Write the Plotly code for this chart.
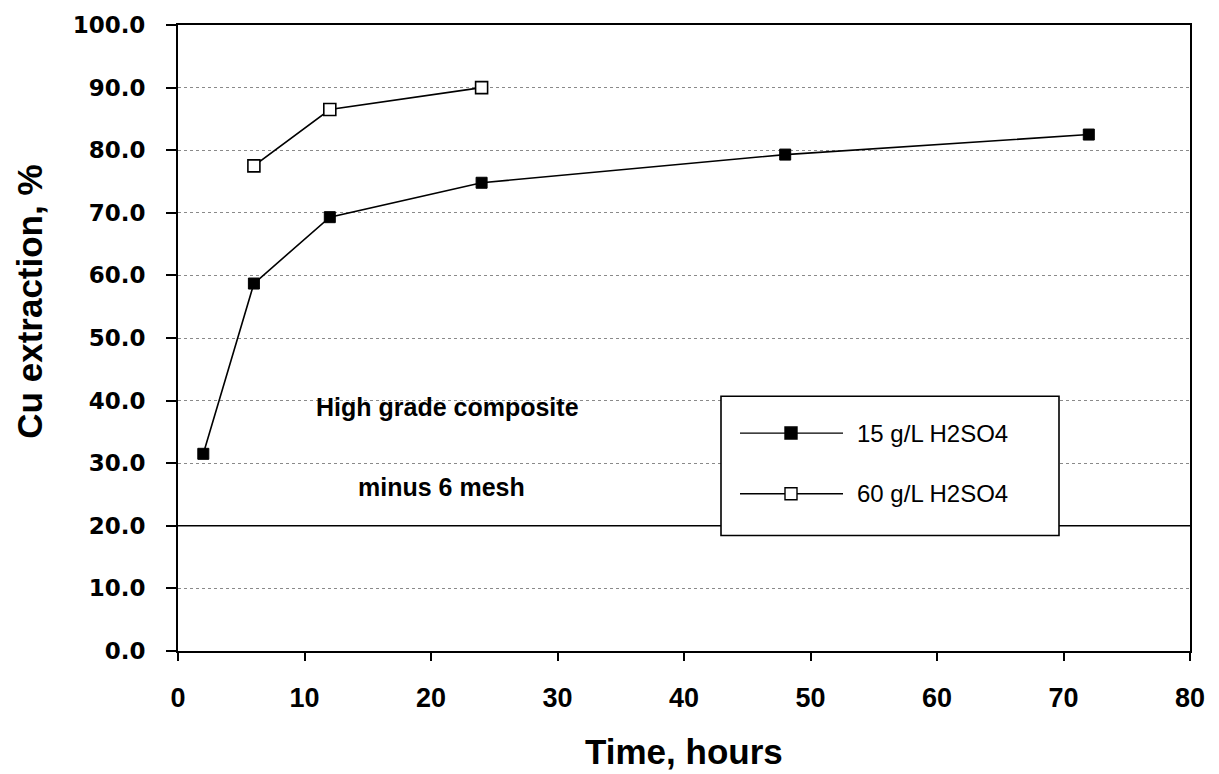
import plotly.graph_objects as go

# Copper extraction vs. leach time, high grade composite (minus 6 mesh)
time_15 = [2, 6, 12, 24, 48, 72]
cu_15 = [31.5, 58.7, 69.3, 74.8, 79.3, 82.5]

time_60 = [6, 12, 24]
cu_60 = [77.5, 86.5, 90.0]

series_names = ["15 g/L H2SO4", "60 g/L H2SO4"]
x_ticks = [0, 10, 20, 30, 40, 50, 60, 70, 80]
y_ticks = [0, 10, 20, 30, 40, 50, 60, 70, 80, 90, 100]

W, H = 1219, 774
L, R, T, B = 178, 29, 22, 123
PW, PH = W - L - R, H - T - B


def px(xp):
    return (xp - L) / PW


def py(yp):
    return (H - B - yp) / PH


fig = go.Figure()

fig.add_trace(go.Scatter(
    x=time_15, y=cu_15, mode="lines+markers", name=series_names[0],
    line=dict(color="black", width=1.6),
    marker=dict(symbol="square", size=11, color="black",
                line=dict(color="black", width=1)),
    showlegend=False,
))
fig.add_trace(go.Scatter(
    x=time_60, y=cu_60, mode="lines+markers", name=series_names[1],
    line=dict(color="black", width=1.6),
    marker=dict(symbol="square", size=12, color="white",
                line=dict(color="black", width=1.6)),
    showlegend=False,
))

tick_font_x = dict(family="Liberation Sans, Arial", size=27, color="black", weight="bold")
tick_font_y = dict(family="DejaVu Sans", size=23, color="black", weight="bold")

fig.update_layout(
    width=W, height=H,
    margin=dict(l=L, r=R, t=T, b=B, pad=0),
    paper_bgcolor="white", plot_bgcolor="white",
    showlegend=False,
    xaxis=dict(
        range=[0, 80], tickvals=x_ticks, ticktext=[str(v) for v in x_ticks],
        ticks="outside", ticklen=8, tickwidth=1.5, tickcolor="black",
        showline=True, linecolor="black", linewidth=2, mirror=True,
        showgrid=False, zeroline=False,
        tickfont=tick_font_x, ticklabelstandoff=14,
    ),
    xaxis2=dict(
        range=[0, 80], tickvals=x_ticks, overlaying="x", anchor="y", side="bottom",
        ticks="inside", ticklen=8, tickwidth=1.5, tickcolor="black",
        showticklabels=False, showgrid=False, zeroline=False, showline=False,
    ),
    yaxis=dict(
        range=[0, 100], tickvals=y_ticks, tickformat=".1f",
        ticks="outside", ticklen=10, tickwidth=1.5, tickcolor="black",
        showline=True, linecolor="black", linewidth=2, mirror=True,
        showgrid=True, gridcolor="#8a8a8a", gridwidth=1, griddash="dot",
        zeroline=False,
        tickfont=tick_font_y, ticklabelstandoff=16,
    ),
)

shapes = []
# solid reference line at 20 %
shapes.append(dict(type="line", xref="x", yref="y", x0=0, x1=80, y0=20, y1=20,
                   line=dict(color="black", width=1.5), layer="between"))

# legend box
lx0, lx1, ly0, ly1 = 721, 1059, 395, 535
shapes.append(dict(type="rect", xref="paper", yref="paper",
                   x0=px(lx0), x1=px(lx1), y0=py(ly1), y1=py(ly0),
                   line=dict(color="black", width=1.6), fillcolor="white",
                   layer="above"))

rows = [432, 493]
fills = ["black", "white"]
sq = 12
for row, fill in zip(rows, fills):
    shapes.append(dict(type="line", xref="paper", yref="paper",
                       x0=px(740), x1=px(843), y0=py(row), y1=py(row),
                       line=dict(color="black", width=1.3), layer="above"))
    shapes.append(dict(type="rect", xref="paper", yref="paper",
                       x0=px(791 - sq / 2), x1=px(791 + sq / 2),
                       y0=py(row + sq / 2), y1=py(row - sq / 2),
                       line=dict(color="black", width=1.4), fillcolor=fill,
                       layer="above"))
fig.update_layout(shapes=shapes)

annotations = []
for row, name in zip(rows, series_names):
    annotations.append(dict(
        xref="paper", yref="paper", x=px(855), y=py(row),
        xanchor="left", yanchor="middle", showarrow=False, text=name,
        font=dict(family="Liberation Sans, Arial", size=24, color="black"),
    ))

annotations.append(dict(
    xref="paper", yref="paper", x=px(447), y=py(406),
    xanchor="center", yanchor="middle", showarrow=False,
    text="High grade composite",
    font=dict(family="Liberation Sans, Arial", size=25, color="black", weight="bold"),
))
annotations.append(dict(
    xref="paper", yref="paper", x=px(441), y=py(486),
    xanchor="center", yanchor="middle", showarrow=False,
    text="minus 6 mesh",
    font=dict(family="Liberation Sans, Arial", size=25, color="black", weight="bold"),
))

# axis titles
annotations.append(dict(
    xref="paper", yref="paper", x=0.5, y=py(752),
    xanchor="center", yanchor="middle", showarrow=False,
    text="Time, hours",
    font=dict(family="Liberation Sans, Arial", size=35, color="black", weight="bold"),
))
annotations.append(dict(
    xref="paper", yref="paper", x=px(30), y=py(300),
    xanchor="center", yanchor="middle", showarrow=False, textangle=-90,
    text="Cu extraction, %",
    font=dict(family="Liberation Sans, Arial", size=35, color="black", weight="bold"),
))
fig.update_layout(annotations=annotations)

fig.write_html("out.html")
